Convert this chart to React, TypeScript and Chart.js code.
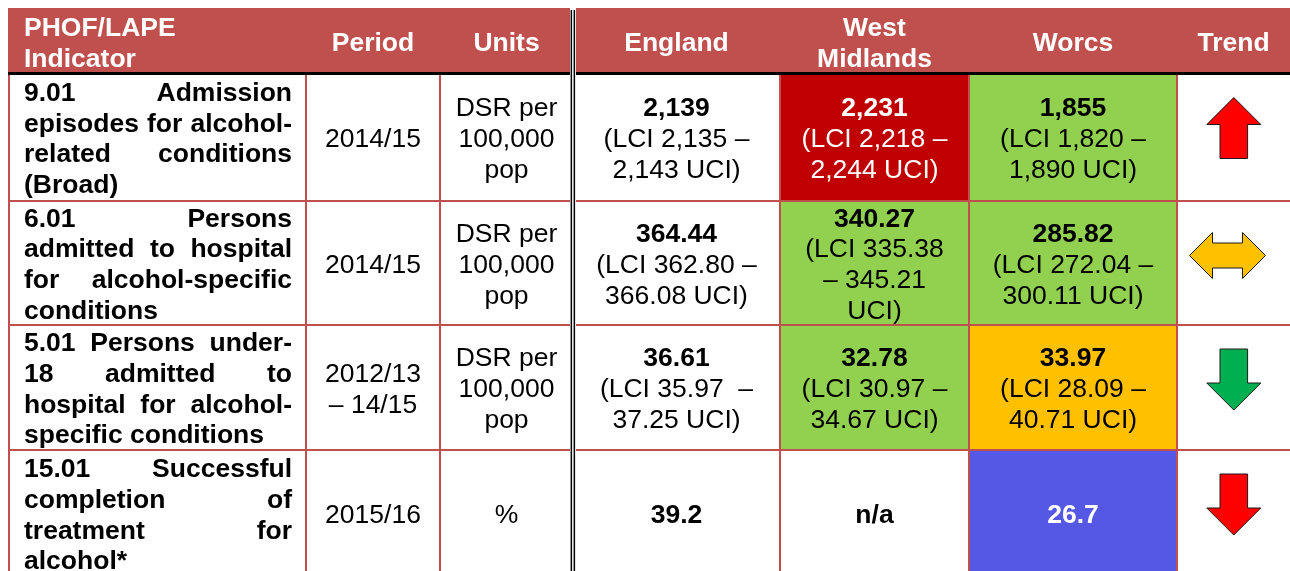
import React, { useEffect, useRef } from "react";
import { Chart, registerables } from "chart.js";

Chart.register(...registerables);

// ---------------- DATA ----------------
const headers: string[][] = [
  ["PHOF/LAPE", "Indicator"],
  ["Period"],
  ["Units"],
  ["England"],
  ["West", "Midlands"],
  ["Worcs"],
  ["Trend"],
];

const indicators: string[][] = [
  ["9.01 Admission", "episodes for alcohol-", "related conditions", "(Broad)"],
  ["6.01 Persons", "admitted to hospital", "for alcohol-specific", "conditions"],
  ["5.01 Persons under-", "18 admitted to", "hospital for alcohol-", "specific conditions"],
  ["15.01 Successful", "completion of", "treatment for", "alcohol*"],
];

const periods: string[][] = [["2014/15"], ["2014/15"], ["2012/13", "– 14/15"], ["2015/16"]];

const units: string[][] = [
  ["DSR per", "100,000", "pop"],
  ["DSR per", "100,000", "pop"],
  ["DSR per", "100,000", "pop"],
  ["%"],
];

const englandValues: string[] = ["2,139", "364.44", "36.61", "39.2"];
const englandCI: string[][] = [
  ["(LCI 2,135 –", "2,143 UCI)"],
  ["(LCI 362.80 –", "366.08 UCI)"],
  ["(LCI 35.97  –", "37.25 UCI)"],
  [],
];

const westMidlandsValues: string[] = ["2,231", "340.27", "32.78", "n/a"];
const westMidlandsCI: string[][] = [
  ["(LCI 2,218 –", "2,244 UCI)"],
  ["(LCI 335.38", "– 345.21", "UCI)"],
  ["(LCI 30.97 –", "34.67 UCI)"],
  [],
];
const westMidlandsRag: (string | null)[] = ["worse", "better", "better", null];

const worcsValues: string[] = ["1,855", "285.82", "33.97", "26.7"];
const worcsCI: string[][] = [
  ["(LCI 1,820 –", "1,890 UCI)"],
  ["(LCI 272.04 –", "300.11 UCI)"],
  ["(LCI 28.09 –", "40.71 UCI)"],
  [],
];
const worcsRag: (string | null)[] = ["better", "better", "similar", "noCompare"];

const trendDirections: string[] = ["up", "both", "down", "down"];
const trendColours: string[] = ["#FF0000", "#FFC000", "#00B050", "#FF0000"];

// ---------------- STYLE / LAYOUT ----------------
const RAG_FILL: Record<string, string> = {
  worse: "#C00000",
  better: "#92D050",
  similar: "#FFC000",
  noCompare: "#5558E4",
};
const RAG_TEXT: Record<string, string> = {
  worse: "#FFFFFF",
  better: "#000000",
  similar: "#000000",
  noCompare: "#FFFFFF",
};
const HEADER_FILL = "#C0504D";
const GRID = "#C0504D";
const FONT = '"Liberation Sans", Arial, sans-serif';
const FS = 26.5;
const LH = 30.8;
const CAP_OFFSET = 9.5; // baseline below the visual cap centre
const COL_EDGES = [8, 306, 440, 573, 780, 969, 1177, 1290];
const ROW_EDGES = [8, 73.5, 201, 325, 450, 577];
const W = 1290;
const H = 571;

function drawTable(chart: any) {
  const ctx: CanvasRenderingContext2D = chart.ctx;
  const xs = chart.scales.x;
  const ys = chart.scales.y;
  const X = (v: number) => xs.getPixelForValue(v);
  const Y = (v: number) => ys.getPixelForValue(v);

  const font = (bold: boolean) => `${bold ? "bold " : ""}${FS}px ${FONT}`;

  const centered = (lines: { t: string; b: boolean }[], cx: number, cy: number, color: string) => {
    const n = lines.length;
    const top = cy - ((n - 1) * LH) / 2;
    ctx.textAlign = "center";
    ctx.textBaseline = "alphabetic";
    ctx.fillStyle = color;
    lines.forEach((l, i) => {
      ctx.font = font(l.b);
      ctx.fillText(l.t, X(cx), Y(top + i * LH + CAP_OFFSET));
    });
  };

  const justified = (lines: string[], left: number, right: number, cy: number) => {
    const n = lines.length;
    const top = cy - ((n - 1) * LH) / 2;
    ctx.font = font(true);
    ctx.textAlign = "left";
    ctx.textBaseline = "alphabetic";
    ctx.fillStyle = "#000";
    const pl = X(left);
    const pr = X(right);
    lines.forEach((line, i) => {
      const y = Y(top + i * LH + CAP_OFFSET);
      const words = line.split(" ").filter(Boolean);
      if (i === n - 1 || words.length < 2) {
        ctx.fillText(line, pl, y);
        return;
      }
      const widths = words.map((w) => ctx.measureText(w).width);
      const sum = widths.reduce((a, b) => a + b, 0);
      const gap = (pr - pl - sum) / (words.length - 1);
      let x = pl;
      words.forEach((w, k) => {
        ctx.fillText(w, x, y);
        x += widths[k] + gap;
      });
    });
  };

  const rect = (x0: number, y0: number, x1: number, y1: number, color: string) => {
    ctx.fillStyle = color;
    ctx.fillRect(X(x0), Y(y0), X(x1) - X(x0), Y(y1) - Y(y0));
  };

  const arrow = (dir: string, cx: number, cy: number, color: string) => {
    let pts: number[][] = [];
    if (dir === "up" || dir === "down") {
      const len = 61, head = 27, hw = 27, sw = 13.8;
      const s = dir === "up" ? 1 : -1;
      const tip = cy - (s * len) / 2;
      const base = tip + s * head;
      const end = tip + s * len;
      pts = [
        [cx, tip], [cx + hw, base], [cx + sw, base], [cx + sw, end],
        [cx - sw, end], [cx - sw, base], [cx - hw, base],
      ];
    } else {
      const half = 38, hl = 23, hh = 23, sh = 12.5;
      const l = cx - half, r = cx + half;
      pts = [
        [l, cy], [l + hl, cy - hh], [l + hl, cy - sh], [r - hl, cy - sh], [r - hl, cy - hh],
        [r, cy], [r - hl, cy + hh], [r - hl, cy + sh], [l + hl, cy + sh], [l + hl, cy + hh],
      ];
    }
    ctx.beginPath();
    pts.forEach((p, i) => (i === 0 ? ctx.moveTo(X(p[0]), Y(p[1])) : ctx.lineTo(X(p[0]), Y(p[1]))));
    ctx.closePath();
    ctx.fillStyle = color;
    ctx.fill();
    ctx.strokeStyle = "#1a1a1a";
    ctx.lineWidth = 1;
    ctx.stroke();
  };

  ctx.save();
  // background
  rect(0, 0, W, H, "#FFFFFF");
  // header
  rect(COL_EDGES[0], ROW_EDGES[0], W, 72, HEADER_FILL);

  // cell fills
  for (let r = 0; r < 4; r++) {
    const y0 = ROW_EDGES[r + 1], y1 = ROW_EDGES[r + 2];
    const wm = westMidlandsRag[r];
    if (wm) rect(COL_EDGES[4], y0, COL_EDGES[5], y1, RAG_FILL[wm]);
    const wo = worcsRag[r];
    if (wo) rect(COL_EDGES[5], y0, COL_EDGES[6], y1, RAG_FILL[wo]);
  }

  // grid lines
  ctx.strokeStyle = GRID;
  ctx.lineWidth = 2;
  for (let r = 2; r < ROW_EDGES.length - 1; r++) {
    ctx.beginPath();
    ctx.moveTo(X(COL_EDGES[0]), Y(ROW_EDGES[r]));
    ctx.lineTo(X(W), Y(ROW_EDGES[r]));
    ctx.stroke();
  }
  [9, COL_EDGES[1], COL_EDGES[2], COL_EDGES[4], COL_EDGES[5], COL_EDGES[6]].forEach((x) => {
    ctx.beginPath();
    ctx.moveTo(X(x), Y(74));
    ctx.lineTo(X(x), Y(H));
    ctx.stroke();
  });
  // header bottom black line
  rect(COL_EDGES[0], 72, W, 75, "#000000");
  // double line
  rect(570, ROW_EDGES[0], 576, H, "#FFFFFF");
  rect(570.6, 10, 572.1, H, "#000000");
  rect(573.6, 10, 575.1, H, "#000000");

  // header text
  const headerCy = 41.6;
  headers.forEach((h, c) => {
    if (c === 0) {
      ctx.font = font(true);
      ctx.fillStyle = "#FFFFFF";
      ctx.textAlign = "left";
      ctx.textBaseline = "alphabetic";
      const top = headerCy - ((h.length - 1) * LH) / 2;
      h.forEach((t, i) => ctx.fillText(t, X(24), Y(top + i * LH + CAP_OFFSET)));
    } else {
      const cx = (COL_EDGES[c] + COL_EDGES[c + 1]) / 2;
      centered(h.map((t) => ({ t, b: true })), cx, headerCy, "#FFFFFF");
    }
  });

  // body text
  const mid = (c: number) => (COL_EDGES[c] + COL_EDGES[c + 1]) / 2;
  for (let r = 0; r < 4; r++) {
    const top = ROW_EDGES[r + 1] + 1.5;
    const bot = ROW_EDGES[r + 2] - 1;
    const cy = (top + bot) / 2;
    justified(indicators[r], 24, 292, cy);
    centered(periods[r].map((t) => ({ t, b: false })), mid(1), cy, "#000");
    centered(units[r].map((t) => ({ t, b: false })), mid(2), cy, "#000");
    centered(
      [{ t: englandValues[r], b: true }, ...englandCI[r].map((t) => ({ t, b: false }))],
      mid(3), cy, "#000"
    );
    const wm = westMidlandsRag[r];
    centered(
      [{ t: westMidlandsValues[r], b: true }, ...westMidlandsCI[r].map((t) => ({ t, b: false }))],
      mid(4), cy, wm ? RAG_TEXT[wm] : "#000"
    );
    const wo = worcsRag[r];
    centered(
      [{ t: worcsValues[r], b: true }, ...worcsCI[r].map((t) => ({ t, b: false }))],
      mid(5), cy, wo ? RAG_TEXT[wo] : "#000"
    );
    const dir = trendDirections[r];
    const acx = mid(6) + (dir === "both" ? -6 : 0.3);
    arrow(dir, acx, top + 53, trendColours[r]);
  }
  ctx.restore();
}

const tablePlugin = {
  id: "tablePlugin",
  afterDraw(chart: any) {
    drawTable(chart);
  },
};

export default function App() {
  const ref = useRef<HTMLCanvasElement>(null);
  useEffect(() => {
    document.body.style.margin = "0";
    document.body.style.overflow = "hidden";
    if (!ref.current) return;
    const chart = new Chart(ref.current, {
      type: "scatter",
      data: { datasets: [] },
      options: {
        animation: false,
        responsive: true,
        maintainAspectRatio: false,
        devicePixelRatio: 1,
        events: [],
        layout: { padding: 0 },
        plugins: { legend: { display: false }, tooltip: { enabled: false } },
        scales: {
          x: { type: "linear", display: false, min: 0, max: W },
          y: { type: "linear", display: false, min: 0, max: H, reverse: true },
        },
      },
      plugins: [tablePlugin],
    } as any);
    return () => chart.destroy();
  }, []);
  return (
    <div style={{ position: "fixed", left: 0, top: 0, width: W, height: H, background: "#fff" }}>
      <canvas ref={ref} />
    </div>
  );
}
